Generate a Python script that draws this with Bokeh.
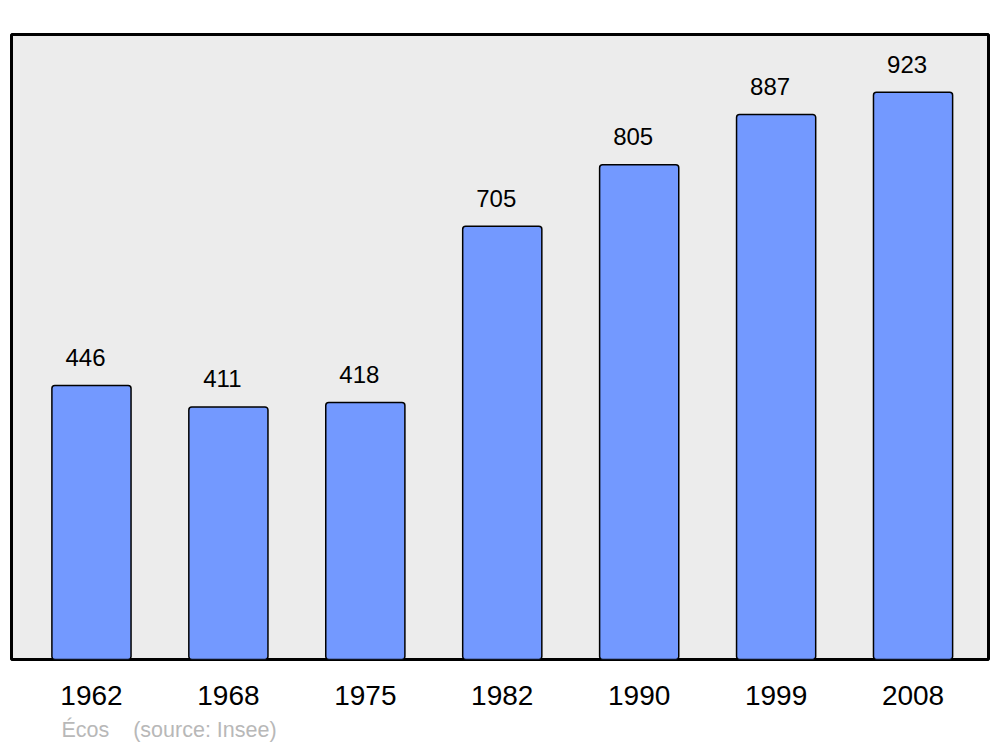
from bokeh.plotting import figure
from bokeh.models import Range1d, FixedTicker, Title, ColumnDataSource
from bokeh.core.properties import value
from bokeh.embed import file_html
from bokeh.resources import INLINE

years = ["1962", "1968", "1975", "1982", "1990", "1999", "2008"]
population = [446, 411, 418, 705, 805, 887, 923]
source_text = "Écos\u00a0\u00a0\u00a0\u00a0(source: Insee)"

xs = list(range(len(years)))
src = ColumnDataSource(dict(x=xs, y=population, lbl=[str(v) for v in population]))

p = figure(frame_width=977, frame_height=625, output_backend="svg", toolbar_location=None,
           x_range=Range1d(-0.584, 6.551), y_range=Range1d(0, 1017),
           min_border_left=11, min_border_right=3, min_border_top=34, min_border_bottom=0)
p.background_fill_color = "#ececec"
p.border_fill_color = "white"
p.outline_line_color = "black"
p.outline_line_width = 3
p.outline_line_alpha = 1
p.grid.visible = False
p.yaxis.visible = False

p.vbar(x="x", top="y", bottom=0, width=0.578, source=src, fill_color="#7399ff",
       line_color="black", line_width=1.5, border_radius=3)
p.text(x="x", y="y", text="lbl", source=src, text_align="center", text_baseline="alphabetic",
       x_offset=-6, y_offset=-28, text_font=value("Liberation Sans"), text_font_size="24px",
       text_color="black")

ax = p.xaxis[0]
ax.ticker = FixedTicker(ticks=xs)
ax.major_label_overrides = {i: y for i, y in enumerate(years)}
ax.axis_line_color = None
ax.major_tick_line_color = None
ax.minor_tick_line_color = None
ax.major_tick_out = 0
ax.major_tick_in = 0
ax.major_label_standoff = 26
ax.major_label_text_font = "Liberation Sans"
ax.major_label_text_font_size = "28px"
ax.major_label_text_color = "black"

t = Title(text=source_text, align="left", text_color="#b8b8b8", text_font="Liberation Sans",
          text_font_size="21.5px", text_font_style="normal", offset=50, standoff=17)
p.add_layout(t, "below")

open("out.html", "w").write(file_html(p, INLINE))
